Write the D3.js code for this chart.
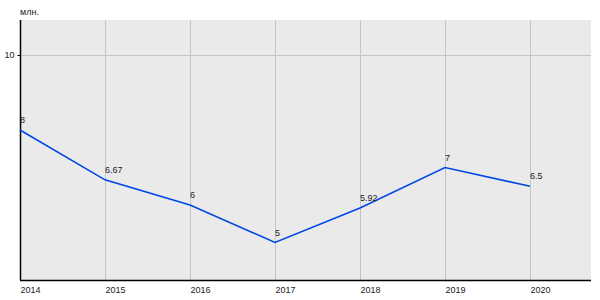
<!DOCTYPE html>
<html><head><meta charset="utf-8">
<script src="https://cdn.jsdelivr.net/npm/d3@7"></script>
<style>body{margin:0;background:#fff}svg{display:block}text{font-family:"Liberation Sans",Arial,sans-serif;font-size:9px;fill:#222}</style>
</head><body><svg id="c" width="600" height="300"></svg>
<script>
const years = [2014, 2015, 2016, 2017, 2018, 2019, 2020];
const values = [8, 6.67, 6, 5, 5.92, 7, 6.5];
const labels = ["8", "6.67", "6", "5", "5.92", "7", "6.5"];
const yTicks = [10];
const unit = "млн.";

(function () {
const svg = d3.select("#c");
const mL = 20, mR = 591, mT = 20, mB = 280;
const x = d3.scaleLinear().domain([2014, 2020]).range([mL, 530]);
const y = d3.scaleLinear().domain([4, 10]).range([mB, 55]);
const FF = "Liberation Sans, Arial, sans-serif";

svg.append("rect").attr("x", mL).attr("y", mT).attr("width", mR - mL).attr("height", mB - mT).attr("fill", "#eaeaea");

// vertical grid
svg.append("g").selectAll("line").data(years.slice(1)).join("line")
  .attr("x1", d => Math.round(x(d)) + 0.5).attr("x2", d => Math.round(x(d)) + 0.5)
  .attr("y1", mT).attr("y2", mB).attr("stroke", "#c4c4c4").attr("stroke-width", 1);
// horizontal grid
svg.append("g").selectAll("line").data(yTicks).join("line")
  .attr("x1", mL).attr("x2", mR)
  .attr("y1", d => Math.round(y(d)) + 0.5).attr("y2", d => Math.round(y(d)) + 0.5)
  .attr("stroke", "#c4c4c4");

// y axis
const yAxis = d3.axisLeft(y).tickValues(yTicks).tickSize(3).tickPadding(3).tickFormat(d3.format("d"));
const gy = svg.append("g").attr("transform", `translate(${mL + 0.5},0)`).call(yAxis);
gy.select(".domain").attr("d", `M0,${mT}V${mB}`).attr("stroke", "#000").attr("stroke-width", 1.5);
gy.selectAll(".tick line").attr("stroke", "#000");
gy.selectAll("text").attr("font-size", 9).attr("fill", "#222").attr("font-family", FF);

// x axis
const xAxis = d3.axisBottom(x).tickValues(years).tickSize(0).tickPadding(0).tickFormat(d3.format("d"));
const gx = svg.append("g").attr("transform", `translate(0,${mB + 0.5})`).call(xAxis);
gx.select(".domain").attr("d", `M${mL},0H${mR}`).attr("stroke", "#000").attr("stroke-width", 1.5);
gx.selectAll("text").attr("text-anchor", "start").attr("dy", null).attr("y", 12)
  .attr("font-size", 9).attr("fill", "#222").attr("font-family", FF);

// unit
svg.append("text").attr("x", mL).attr("y", 15).text(unit);

// line
const line = d3.line().x((d, i) => x(years[i])).y(d => y(d));
svg.append("path").datum(values).attr("d", line).attr("fill", "none")
  .attr("stroke", "#0046e6").attr("stroke-width", 1.6);

// labels
svg.append("g").selectAll("text").data(values).join("text")
  .attr("x", (d, i) => x(years[i])).attr("y", d => y(d) - 7)
  .text((d, i) => labels[i]);
})();
</script></body></html>
